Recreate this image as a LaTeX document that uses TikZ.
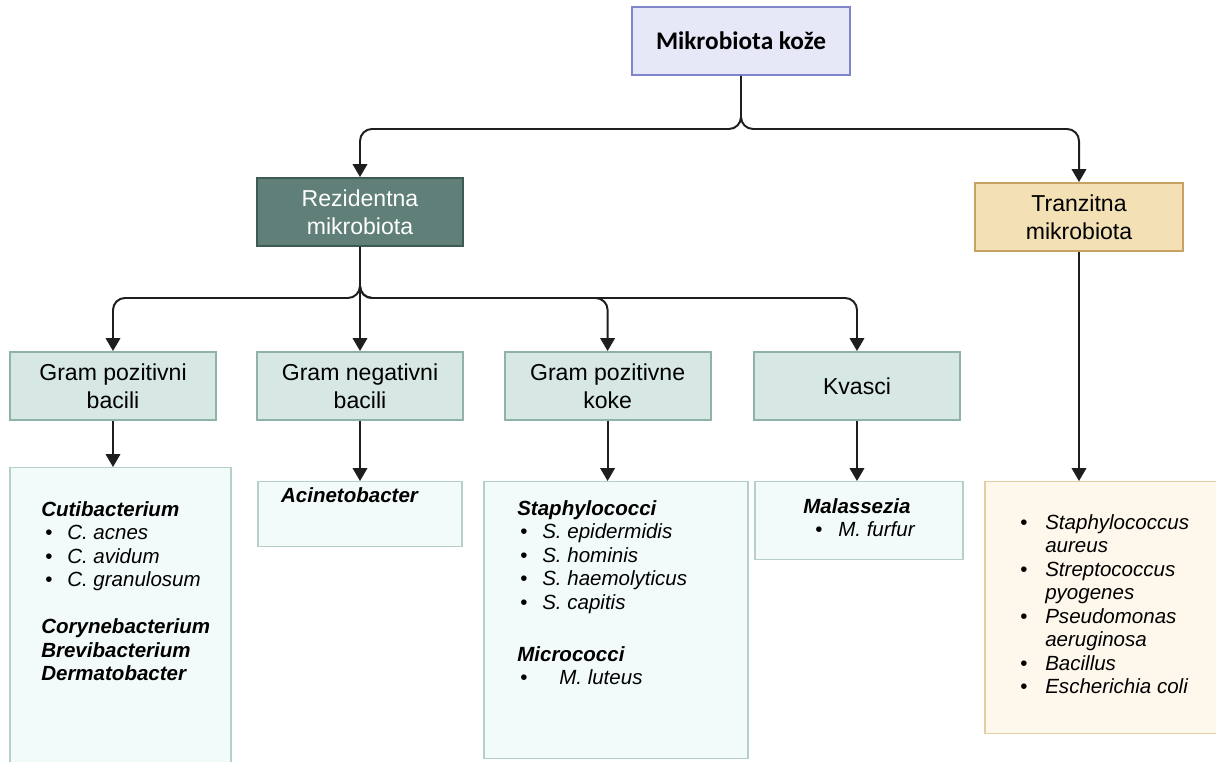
\documentclass[tikz,border=0pt]{standalone}
\usepackage{fontspec}
\setmainfont{Liberation Sans}
\newfontfamily\titlefont{Carlito}
\usepackage{tikz}
\usetikzlibrary{positioning,arrows.meta}

\definecolor{rootfill}{HTML}{E6E8F8}
\definecolor{rootdraw}{HTML}{7F85CC}
\definecolor{rezfill}{HTML}{5F7F78}
\definecolor{rezdraw}{HTML}{3E5A54}
\definecolor{tranfill}{HTML}{F3E0B5}
\definecolor{trandraw}{HTML}{C8A262}
\definecolor{catfill}{HTML}{D6E7E4}
\definecolor{catdraw}{HTML}{8FB3AB}
\definecolor{leaffill}{HTML}{F3FBFA}
\definecolor{leafdraw}{HTML}{B5CFCA}
\definecolor{trleaffill}{HTML}{FDF7EC}
\definecolor{trleafdraw}{HTML}{E2CEA4}
\definecolor{linkcol}{HTML}{1E1E1E}

\newcommand{\sitem}[3]{\hspace*{#1}\makebox[#2][l]{\textbullet}\textit{#3}}

\begin{document}
\begin{tikzpicture}[
    topbox/.style={rectangle, draw=rootdraw, line width=1.4pt, fill=rootfill, minimum width=5.45cm, minimum height=1.7cm, font=\titlefont\bfseries\fontsize{18}{20}\selectfont},
    groupbox/.style={rectangle, draw, line width=1.4pt, minimum width=5.15cm, minimum height=1.7cm, align=center, font=\fontsize{16.4}{19.9}\selectfont},
    catbox/.style={groupbox, draw=catdraw, fill=catfill},
    leafbox/.style={rectangle, draw=leafdraw, line width=1pt, fill=leaffill, anchor=north, inner sep=0pt},
    list/.style={anchor=north west, align=left, inner sep=0pt, font=\fontsize{14.6}{16.7}\selectfont},
    link/.style={draw=linkcol, line width=1.4pt, rounded corners=0.3cm, -{Triangle[width=0.36cm,length=0.32cm]}},
]
\clip (0,0) rectangle (30.4,-19.025);

% Level 1 - root
\node[topbox] (root) at (18.525,-1.025) {Mikrobiota kože};

% Level 2
\node[groupbox, draw=rezdraw, fill=rezfill, text=white] (rez) at (9.0,-5.3) {Rezidentna\\mikrobiota};
\node[groupbox, draw=trandraw, fill=tranfill, minimum width=5.2cm] (tran) at (26.975,-5.425) {Tranzitna\\mikrobiota};

% Level 3 - groups of resident flora
\node[catbox] (gpb) at (2.825,-9.65) {Gram pozitivni\\bacili};
\node[catbox] (gnb) at (9.0,-9.65) {Gram negativni\\bacili};
\node[catbox] (gpk) at (15.19,-9.65) {Gram pozitivne\\koke};
\node[catbox] (kv) at (21.425,-9.65) {Kvasci};

% Level 4 - boxes with species
\node[leafbox, minimum width=5.525cm, minimum height=8cm] (leafgpb) at (3.0125,-11.675) {};
\node[leafbox, minimum width=5.1cm, minimum height=1.625cm] (leafgnb) at (9.0,-12.025) {};
\node[leafbox, minimum width=6.6cm, minimum height=6.925cm] (leafgpk) at (15.4,-12.025) {};
\node[leafbox, minimum width=5.2cm, minimum height=1.95cm] (leafkv) at (21.475,-12.025) {};
\node[leafbox, draw=trleafdraw, fill=trleaffill, minimum width=6.375cm, minimum height=6.3cm] (leaftr) at (27.8125,-12.025) {};

% species texts
\node[list] (txtgpb) at (1.025,-12.525) {
    \textbf{\textit{Cutibacterium}}\\
    \sitem{0.1cm}{0.55cm}{C. acnes}\\
    \sitem{0.1cm}{0.55cm}{C. avidum}\\
    \sitem{0.1cm}{0.55cm}{C. granulosum}\\[16.7pt]
    \textbf{\textit{Corynebacterium}}\\
    \textbf{\textit{Brevibacterium}}\\
    \textbf{\textit{Dermatobacter}}
};
\node[list, anchor=center] (txtgnb) at (8.75,-12.375) {\textbf{\textit{Acinetobacter}}};
\node[list] (txtgpk) at (12.925,-12.5) {
    \textbf{\textit{Staphylococci}}\\
    \sitem{0.075cm}{0.55cm}{S. epidermidis}\\
    \sitem{0.075cm}{0.55cm}{S. hominis}\\
    \sitem{0.075cm}{0.55cm}{S. haemolyticus}\\
    \sitem{0.075cm}{0.55cm}{S. capitis}\\[20.3pt]
    \textbf{\textit{Micrococci}}\\
    \sitem{0.075cm}{0.975cm}{M. luteus}
};
\node[list] (txtkv) at (20.075,-12.45) {
    \textbf{\textit{Malassezia}}\\
    \sitem{0.3cm}{0.575cm}{M. furfur}
};
\node[list] (txttr) at (25.5,-12.85) {
    \sitem{0cm}{0.625cm}{Staphylococcus}\\
    \hspace*{0.625cm}\textit{aureus}\\
    \sitem{0cm}{0.625cm}{Streptococcus}\\
    \hspace*{0.625cm}\textit{pyogenes}\\
    \sitem{0cm}{0.625cm}{Pseudomonas}\\
    \hspace*{0.625cm}\textit{aeruginosa}\\
    \sitem{0cm}{0.625cm}{Bacillus}\\
    \sitem{0cm}{0.625cm}{Escherichia coli}
};

% Connectors
\coordinate[below=1.325cm of root.south] (rootsplit);
\coordinate[below=1.275cm of rez.south] (rezsplit);

\draw[link] (root.south) -- (rootsplit) -| (rez.north);
\draw[link] (root.south) -- (rootsplit) -| (tran.north);

\draw[link] (rez.south) -- (rezsplit) -| (gpb.north);
\draw[link] (rez.south) -- (gnb.north);
\draw[link] (rez.south) -- (rezsplit) -| (gpk.north);
\draw[link] (rez.south) -- (rezsplit) -| (kv.north);

\draw[link] (gpb.south) -- (gpb.south |- leafgpb.north);
\draw[link] (gnb.south) -- (gnb.south |- leafgnb.north);
\draw[link] (gpk.south) -- (gpk.south |- leafgpk.north);
\draw[link] (kv.south) -- (kv.south |- leafkv.north);
\draw[link] (tran.south) -- (tran.south |- leaftr.north);

\end{tikzpicture}
\end{document}
